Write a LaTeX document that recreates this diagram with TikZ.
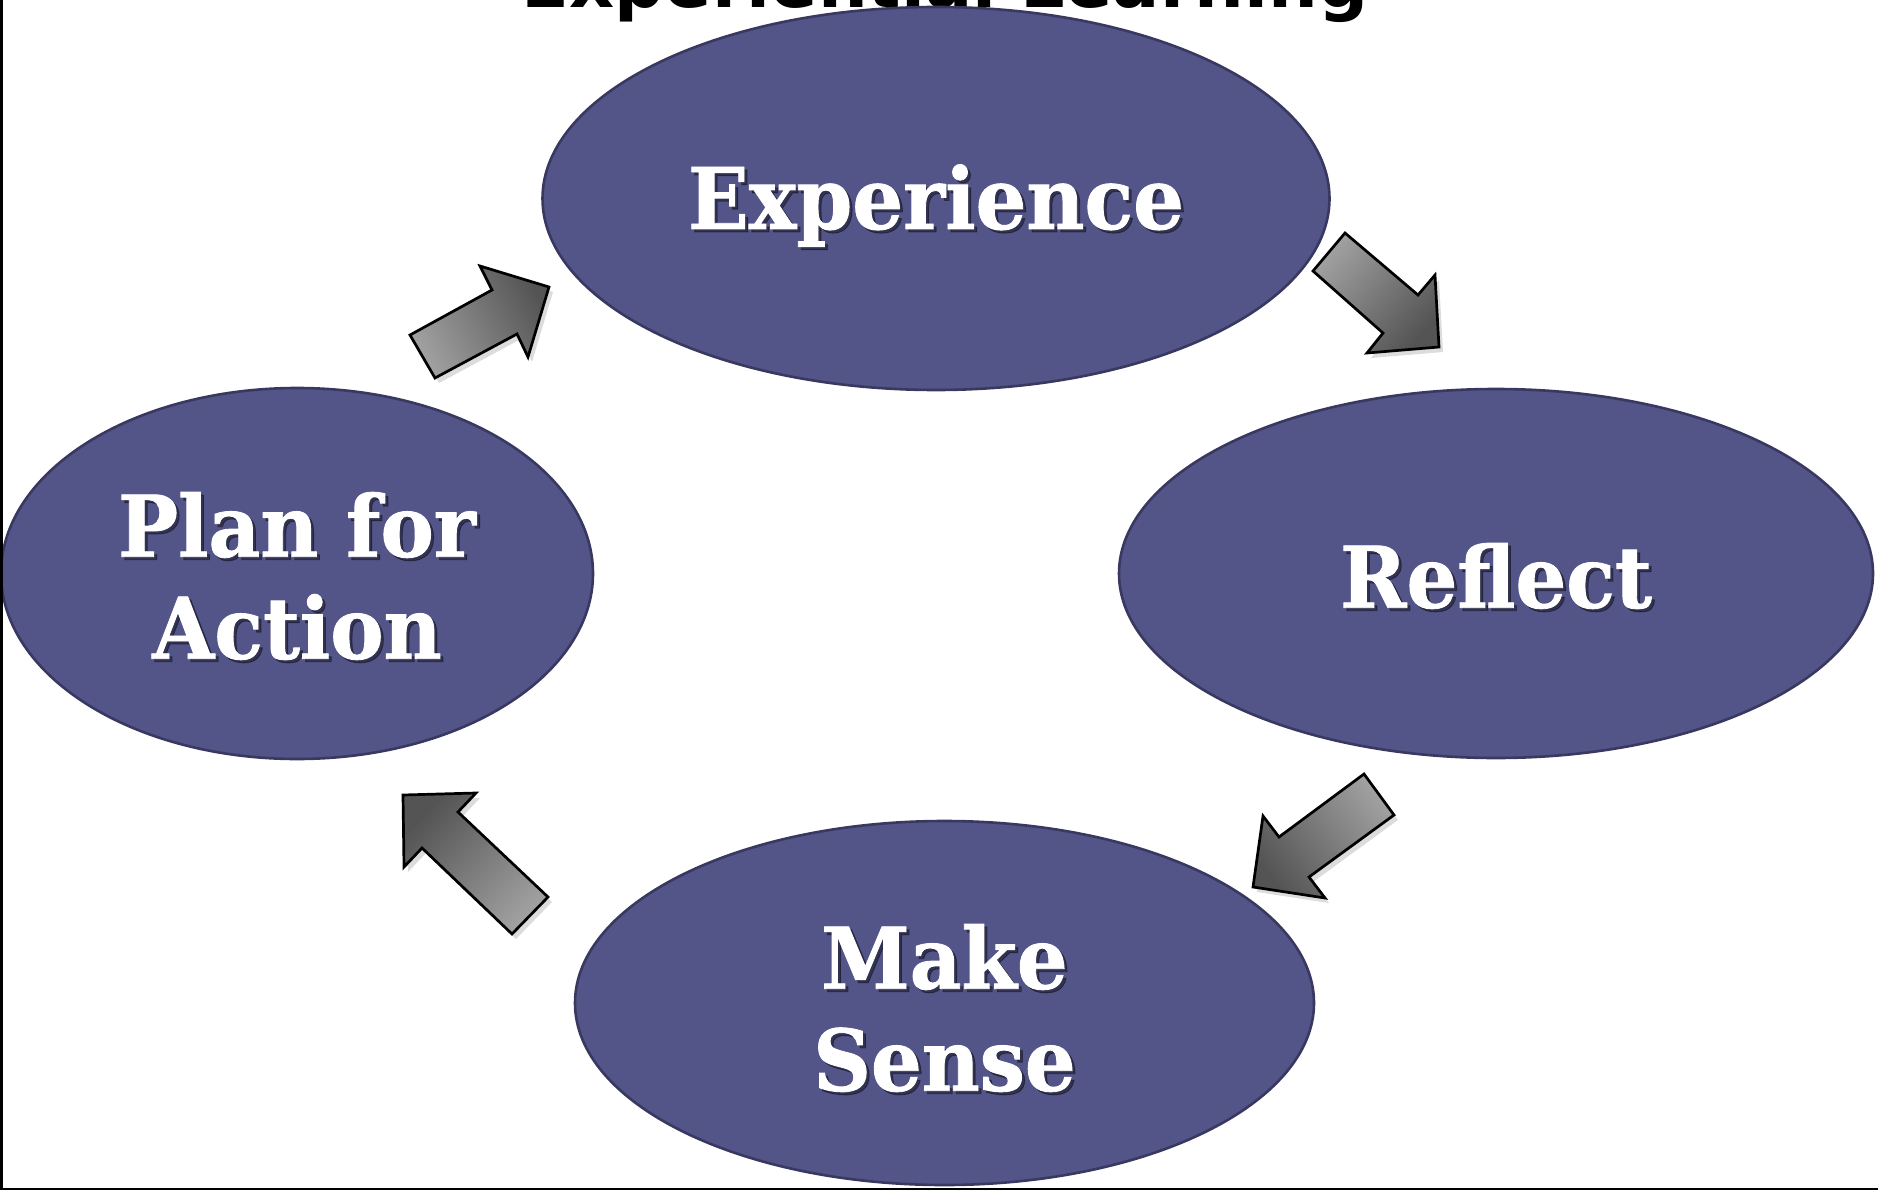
\documentclass[tikz,border=0pt]{standalone}
\usepackage{fontspec}
\newfontfamily\lblfont{DejaVu Serif}[FakeStretch=0.94,FakeBold=1]
\newfontfamily\ttlfont{DejaVu Sans}
\usetikzlibrary{shapes.geometric,shadows}
\definecolor{ellfill}{RGB}{83,84,136}
\definecolor{elledge}{RGB}{56,56,96}
\definecolor{arrlight}{RGB}{160,160,160}
\definecolor{arrdark}{RGB}{84,84,84}
\tikzset{
  ell/.style={ellipse, fill=ellfill, draw=elledge, line width=2.6pt, inner sep=0pt},
  lbl/.style={font=\lblfont\bfseries\fontsize{85}{102}\selectfont, text=white, align=center, inner sep=0pt},
  lblshadow/.style={lbl, text=black, text opacity=0.4},
  blockarrow/.style={draw=black, line width=2.7pt, line join=miter, top color=arrlight, bottom color=arrdark,
    drop shadow={shadow xshift=4pt, shadow yshift=-5pt, opacity=0.28}},
  ttl/.style={font=\ttlfont\bfseries\fontsize{70}{70}\selectfont, anchor=base, inner sep=0pt, text=black},
}
\begin{document}
\begin{tikzpicture}[x=1pt,y=-1pt]
\useasboundingbox (0,0) rectangle (1878,1190);
% title (partly hidden behind the top ellipse)
\node[ttl] (title) at (945,8) {Experiential Learning};
% ellipses
\node[ell, minimum width=787, minimum height=383] (exp)  at (936,198.5) {};
\node[ell, minimum width=754, minimum height=369] (refl) at (1496,573.5) {};
\node[ell, minimum width=592, minimum height=371] (plan) at (297,573.5) {};
\node[ell, minimum width=739, minimum height=364] (make) at (944.5,1003) {};
% block arrows
\draw[blockarrow, shading angle=118.5] (410,335) -- (492,290) -- (480,266) -- (549,287) -- (528,357) -- (517,334) -- (435,378) -- cycle;
\draw[blockarrow, shading angle=49.2] (1345,233) -- (1418,295) -- (1435,275) -- (1439,347) -- (1367,353) -- (1383,333) -- (1313,271) -- cycle;
\draw[blockarrow, shading angle=306.4] (1364,774) -- (1394,815) -- (1309,877) -- (1325,898) -- (1253,887) -- (1263,816) -- (1279,837) -- cycle;
\draw[blockarrow, shading angle=226.6] (403,795) -- (476,793) -- (458,812) -- (548,897) -- (512,934) -- (422,848) -- (404,867) -- cycle;
% labels with shadows
\foreach \n/\t/\dy in {exp/Experience/7, refl/Reflect/2.5, plan/{Plan for\\Action}/2.5, make/{Make\\Sense}/5}{
  \node[lblshadow] at ([xshift=3pt, yshift=-3pt-\dy pt]\n.center) {\t};
  \node[lbl] (\n-text) at ([yshift=-\dy pt]\n.center) {\t};
}
% frame lines
\draw[line width=2.5pt] (1.25,0) -- (1.25,1188.75) -- (1878,1188.75);
\end{tikzpicture}
\end{document}
